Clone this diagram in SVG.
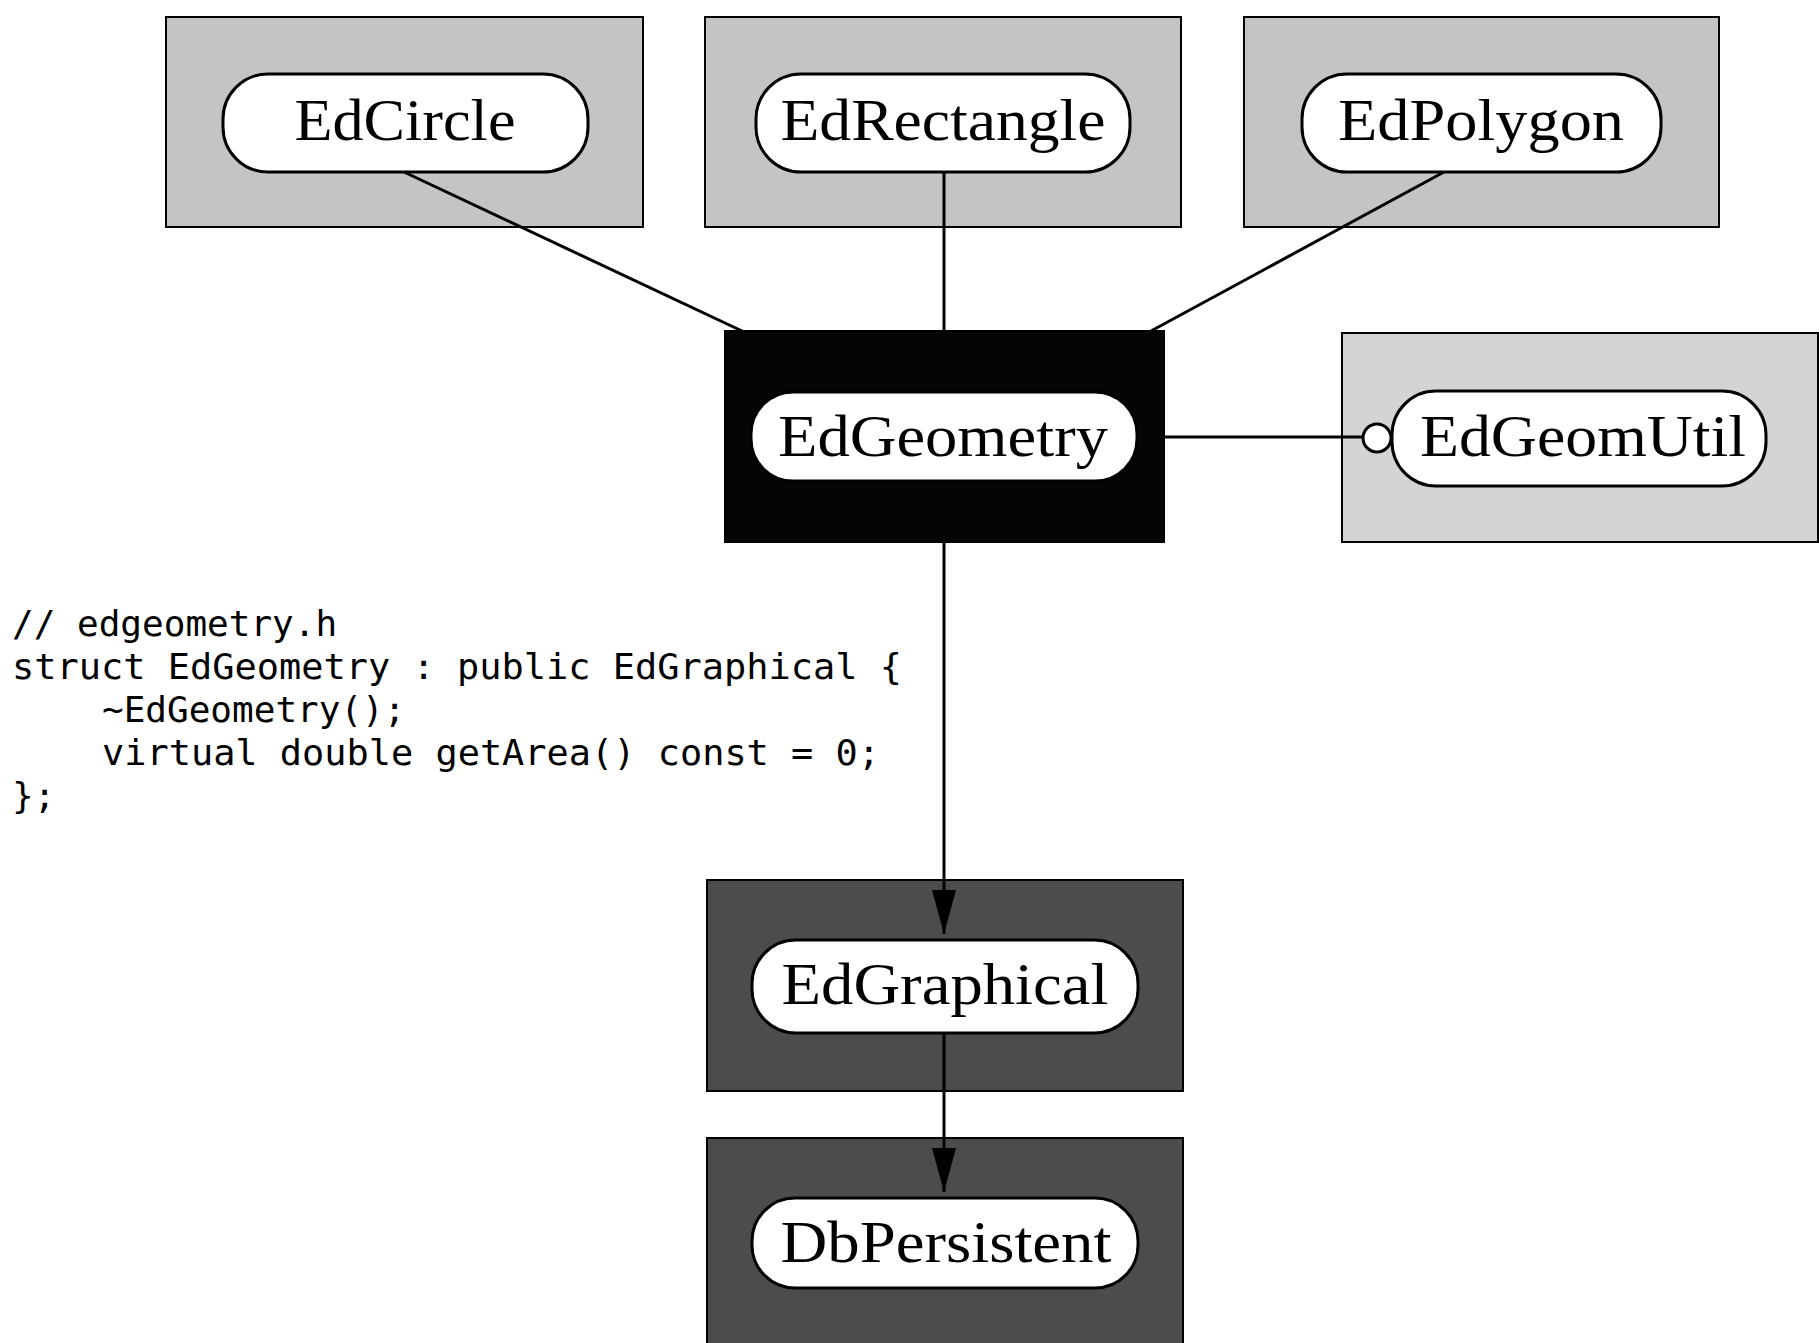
<svg xmlns="http://www.w3.org/2000/svg" width="1819" height="1343" viewBox="0 0 1819 1343">
<style>
.box{stroke:#000;stroke-width:2}
.light{fill:#c4c4c4}
.lighter{fill:#d4d4d4}
.dark{fill:#4c4c4c}
.black{fill:#050505}
.pill{fill:#fff;stroke:#000;stroke-width:3}
.lbl{font-family:"Liberation Serif","DejaVu Serif",serif;font-size:60px;fill:#000;text-anchor:middle}
.code{font-family:"DejaVu Sans Mono","Liberation Mono",monospace;font-size:36px;fill:#000}
.edge{stroke:#000;stroke-width:3;fill:none}
</style>
<defs>
<marker id="arr" markerWidth="44" markerHeight="24" refX="44" refY="12" orient="auto" markerUnits="userSpaceOnUse" viewBox="0 0 44 24">
<path d="M0,0 L44,12 L0,24 Z" fill="#000"/>
</marker>
</defs>
<rect width="1819" height="1343" fill="#fff"/>

<g id="EdCircle">
<rect class="box light" x="166" y="17" width="477" height="210"/>
<rect class="pill" x="223" y="74" width="365" height="98" rx="45"/>
<text class="lbl" x="405" y="140" textLength="221" lengthAdjust="spacingAndGlyphs">EdCircle</text>
</g>
<g id="EdRectangle">
<rect class="box light" x="705" y="17" width="476" height="210"/>
<rect class="pill" x="756" y="74" width="374" height="98" rx="45"/>
<text class="lbl" x="943" y="140" textLength="325" lengthAdjust="spacingAndGlyphs">EdRectangle</text>
</g>
<g id="EdPolygon">
<rect class="box light" x="1244" y="17" width="475" height="210"/>
<rect class="pill" x="1302" y="74" width="359" height="98" rx="45"/>
<text class="lbl" x="1481" y="140" textLength="286" lengthAdjust="spacingAndGlyphs">EdPolygon</text>
</g>
<g id="EdGeometry">
<rect class="box black" x="725" y="331" width="439" height="211"/>
<rect class="pill" x="751" y="392" width="386" height="89" rx="42"/>
<text class="lbl" x="943" y="456" textLength="330" lengthAdjust="spacingAndGlyphs">EdGeometry</text>
</g>
<g id="EdGeomUtil">
<rect class="box lighter" x="1342" y="333" width="476" height="209"/>
<rect class="pill" x="1392" y="391" width="374" height="95" rx="44"/>
<text class="lbl" x="1583" y="456" textLength="326" lengthAdjust="spacingAndGlyphs">EdGeomUtil</text>
</g>
<g id="EdGraphical">
<rect class="box dark" x="707" y="880" width="476" height="211"/>
<rect class="pill" x="752" y="940" width="386" height="93" rx="44"/>
<text class="lbl" x="945" y="1004" textLength="327" lengthAdjust="spacingAndGlyphs">EdGraphical</text>
</g>
<g id="DbPersistent">
<rect class="box dark" x="707" y="1138" width="476" height="215"/>
<rect class="pill" x="752" y="1198" width="386" height="90" rx="43"/>
<text class="lbl" x="946" y="1262" textLength="331" lengthAdjust="spacingAndGlyphs">DbPersistent</text>
</g>

<g id="connectors">
<line class="edge" x1="404" y1="172" x2="742" y2="331"/>
<line class="edge" x1="944" y1="172" x2="944" y2="331"/>
<line class="edge" x1="1444" y1="172" x2="1151" y2="331"/>
<line class="edge" x1="1164" y1="437" x2="1363" y2="437"/>
<circle cx="1377" cy="438" r="14" fill="#fff" stroke="#000" stroke-width="3"/>
<line class="edge" x1="944" y1="542" x2="944" y2="934" marker-end="url(#arr)"/>
<line class="edge" x1="944" y1="1033" x2="944" y2="1192" marker-end="url(#arr)"/>
</g>

<g id="code">
<text class="code" x="12" y="636">// edgeometry.h</text>
<text class="code" x="12" y="679" textLength="890" lengthAdjust="spacingAndGlyphs">struct EdGeometry : public EdGraphical {</text>
<text class="code" x="102" y="722">~EdGeometry();</text>
<text class="code" x="102" y="765" textLength="778" lengthAdjust="spacingAndGlyphs">virtual double getArea() const = 0;</text>
<text class="code" x="12" y="808">};</text>
</g>
</svg>
